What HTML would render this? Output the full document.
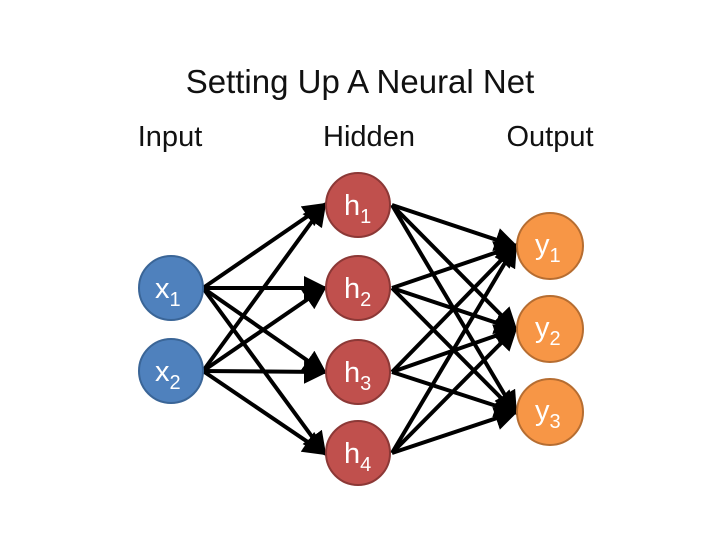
<!DOCTYPE html>
<html><head><style>body{margin:0;background:#fff}</style></head><body>
<svg width="720" height="540" xmlns="http://www.w3.org/2000/svg" font-family="Liberation Sans, sans-serif">
<defs><marker id="a" markerWidth="6" markerHeight="6" refX="5" refY="3" orient="auto" markerUnits="strokeWidth"><path d="M0,0 L6,3 L0,6 z" fill="#000"/></marker></defs>
<text x="360" y="93" font-size="33" text-anchor="middle" fill="#111">Setting Up A Neural Net</text>
<text x="170" y="146" font-size="29" text-anchor="middle" fill="#111">Input</text>
<text x="369" y="146" font-size="29" text-anchor="middle" fill="#111">Hidden</text>
<text x="550" y="146" font-size="29" text-anchor="middle" fill="#111">Output</text>
<g stroke="#000" stroke-width="4" marker-end="url(#a)">
<line x1="203" y1="288" x2="324" y2="205"/><line x1="203" y1="288" x2="324" y2="288"/><line x1="203" y1="288" x2="324" y2="372"/><line x1="203" y1="288" x2="324" y2="453"/>
<line x1="203" y1="371" x2="324" y2="205"/><line x1="203" y1="371" x2="324" y2="288"/><line x1="203" y1="371" x2="324" y2="372"/><line x1="203" y1="371" x2="324" y2="453"/>
<line x1="392" y1="205" x2="515" y2="246"/><line x1="392" y1="205" x2="515" y2="329"/><line x1="392" y1="205" x2="515" y2="412"/>
<line x1="392" y1="288" x2="515" y2="246"/><line x1="392" y1="288" x2="515" y2="329"/><line x1="392" y1="288" x2="515" y2="412"/>
<line x1="392" y1="372" x2="515" y2="246"/><line x1="392" y1="372" x2="515" y2="329"/><line x1="392" y1="372" x2="515" y2="412"/>
<line x1="392" y1="453" x2="515" y2="246"/><line x1="392" y1="453" x2="515" y2="329"/><line x1="392" y1="453" x2="515" y2="412"/>
</g>
<g stroke-width="2">
<circle cx="171" cy="288" r="32" fill="#4f81bd" stroke="#3a6597"/><circle cx="171" cy="371" r="32" fill="#4f81bd" stroke="#3a6597"/>
<circle cx="358" cy="205" r="32" fill="#c0504d" stroke="#8c3836"/><circle cx="358" cy="288" r="32" fill="#c0504d" stroke="#8c3836"/><circle cx="358" cy="372" r="32" fill="#c0504d" stroke="#8c3836"/><circle cx="358" cy="453" r="32" fill="#c0504d" stroke="#8c3836"/>
<circle cx="550" cy="246" r="33" fill="#f79646" stroke="#b66d31"/><circle cx="550" cy="329" r="33" fill="#f79646" stroke="#b66d31"/><circle cx="550" cy="412" r="33" fill="#f79646" stroke="#b66d31"/>
</g>
<g fill="#fff" font-size="29">
<text x="155" y="298">x<tspan font-size="20" dy="8">1</tspan></text>
<text x="155" y="381">x<tspan font-size="20" dy="8">2</tspan></text>
<text x="344" y="215">h<tspan font-size="20" dy="8">1</tspan></text>
<text x="344" y="298">h<tspan font-size="20" dy="8">2</tspan></text>
<text x="344" y="382">h<tspan font-size="20" dy="8">3</tspan></text>
<text x="344" y="463">h<tspan font-size="20" dy="8">4</tspan></text>
<text x="535" y="254">y<tspan font-size="20" dy="8">1</tspan></text>
<text x="535" y="337">y<tspan font-size="20" dy="8">2</tspan></text>
<text x="535" y="420">y<tspan font-size="20" dy="8">3</tspan></text>
</g>
</svg>
</body></html>
